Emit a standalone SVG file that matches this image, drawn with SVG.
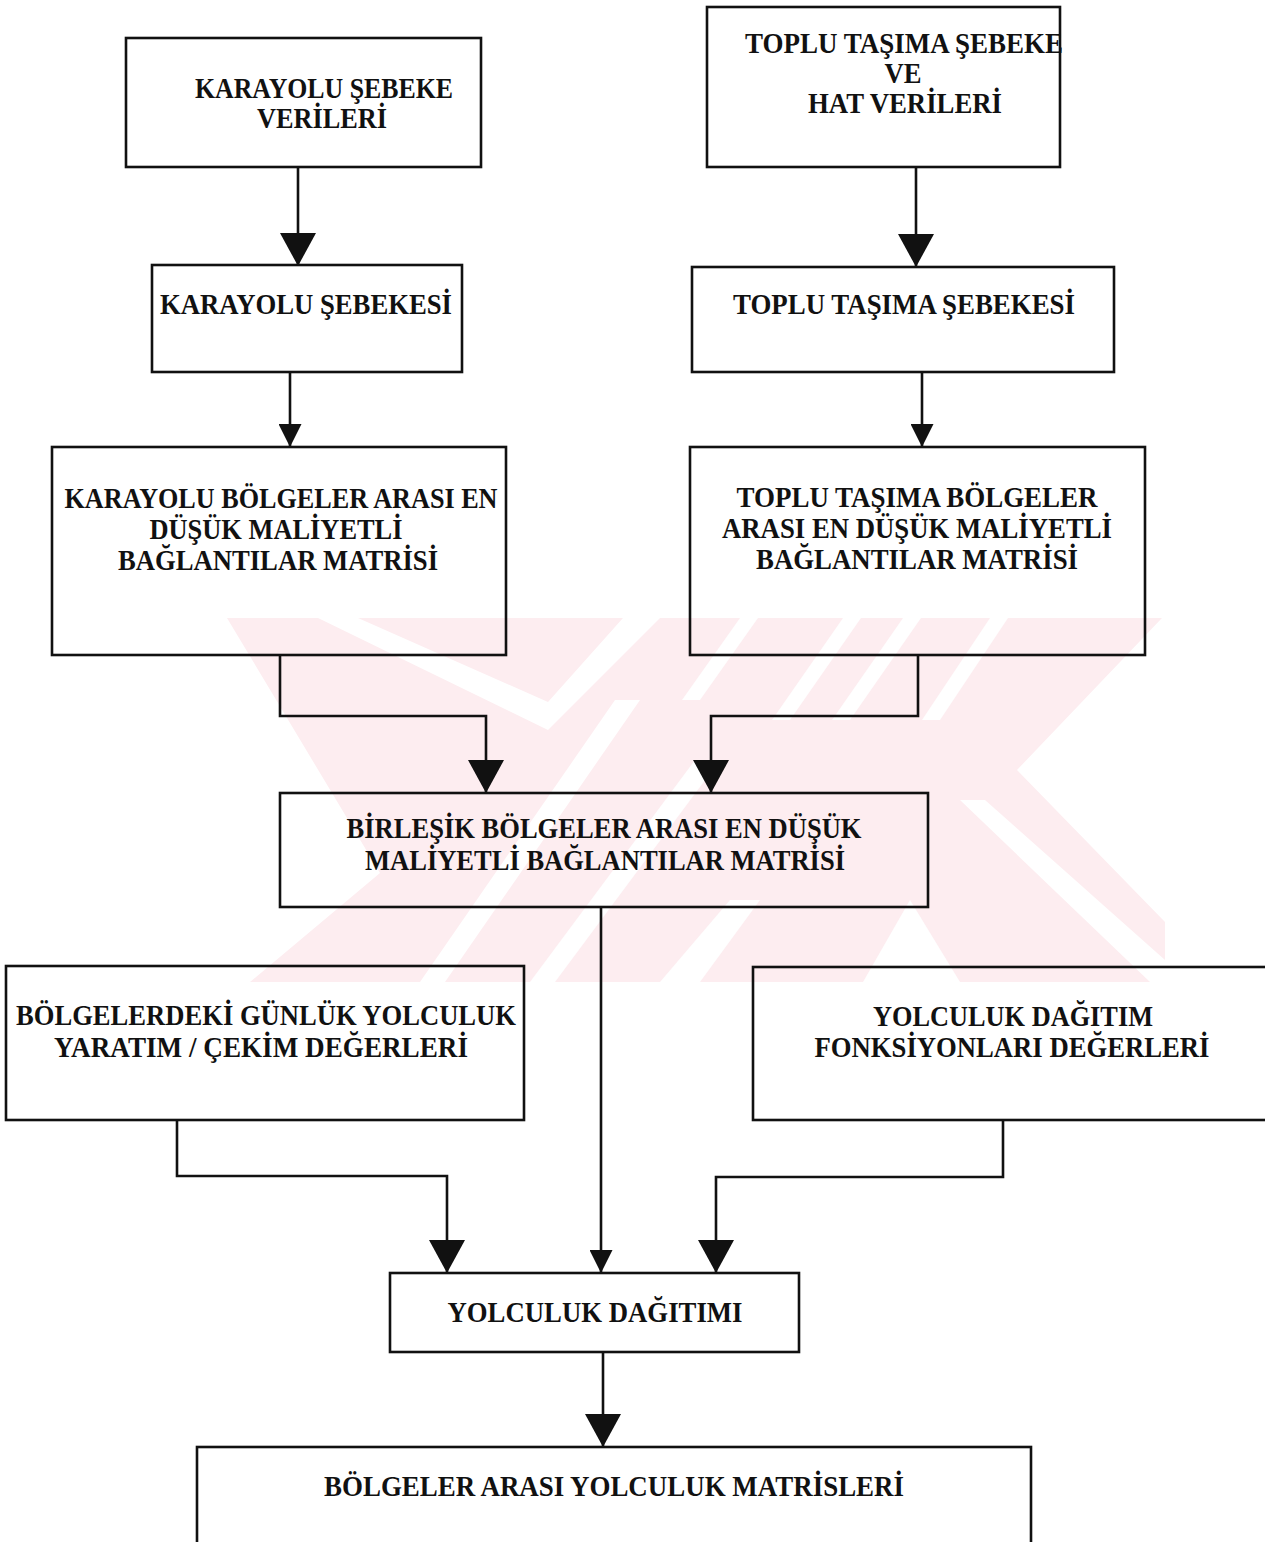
<svg xmlns="http://www.w3.org/2000/svg" width="1265" height="1542" viewBox="0 0 1265 1542">
  <defs>
    <style>
      .box { fill: none; stroke: #111; stroke-width: 2.6; }
      .wire { fill: none; stroke: #111; stroke-width: 2.6; }
      .lbl { font-family: "Liberation Serif", "Times New Roman", serif; font-weight: bold; font-size: 29px; fill: #111; text-anchor: middle; }
      .wm { fill: #fdedf0; }
      .gap { fill: #ffffff; }
    </style>
    <marker id="headBig" markerUnits="userSpaceOnUse" viewBox="0 0 33 36" markerWidth="33" markerHeight="36" refX="33" refY="18" orient="auto">
      <path d="M0,0 L33,18 L0,36 Z" fill="#111"/>
    </marker>
    <marker id="headSmall" markerUnits="userSpaceOnUse" viewBox="0 0 23 23" markerWidth="23" markerHeight="23" refX="23" refY="11.5" orient="auto">
      <path d="M0,0 L23,11.5 L0,23 Z" fill="#111"/>
    </marker>
  </defs>

  <rect width="1265" height="1542" fill="#ffffff"/>

  <!-- faint background emblem -->
  <g id="emblem">
    <polygon class="wm" points="227,618 1162,618 1017,770 1165,922 1165,982 250,982 380,873"/>
    <!-- white cut-outs -->
    <polygon class="gap" points="318,618 358,618 548,702 623,618 660,618 548,730"/>
    <polygon class="gap" points="420,982 445,982 640,700 615,700"/>
    <polygon class="gap" points="530,982 555,982 720,760 695,760"/>
    <polygon class="gap" points="660,982 700,982 760,900 730,900"/>
    <polygon class="gap" points="960,800 985,800 1165,960 1165,982 1150,982"/>
    <polygon class="gap" points="863,982 960,982 910,900"/>
    <polygon class="gap" points="740,618 758,618 700,700 682,700"/>
    <polygon class="gap" points="843,618 861,618 790,720 772,720"/>
    <polygon class="gap" points="903,618 921,618 850,720 832,720"/>
    <polygon class="gap" points="990,618 1008,618 940,720 922,720"/>
  </g>

  <!-- connectors -->
  <g id="connectors">
    <path class="wire" d="M298,167 V266" marker-end="url(#headBig)"/>
    <path class="wire" d="M916,167 V267" marker-end="url(#headBig)"/>
    <path class="wire" d="M290,372 V447" marker-end="url(#headSmall)"/>
    <path class="wire" d="M922,372 V447" marker-end="url(#headSmall)"/>
    <path class="wire" d="M280,655 V716 H486 V793" marker-end="url(#headBig)"/>
    <path class="wire" d="M918,655 V716 H711 V793" marker-end="url(#headBig)"/>
    <path class="wire" d="M177,1120 V1176 H447 V1273" marker-end="url(#headBig)"/>
    <path class="wire" d="M601,907 V1273" marker-end="url(#headSmall)"/>
    <path class="wire" d="M1003,1120 V1177 H716 V1273" marker-end="url(#headBig)"/>
    <path class="wire" d="M603,1352 V1447" marker-end="url(#headBig)"/>
  </g>

  <g id="karayolu-veri">
    <rect class="box" x="126" y="38" width="355" height="129"/>
    <text class="lbl" x="324" y="98" textLength="258" lengthAdjust="spacingAndGlyphs">KARAYOLU ŞEBEKE</text>
    <text class="lbl" x="322" y="128" textLength="130" lengthAdjust="spacingAndGlyphs">VERİLERİ</text>
  </g>

  <g id="karayolu-sebeke">
    <rect class="box" x="152" y="265" width="310" height="107"/>
    <text class="lbl" x="306" y="314" textLength="292" lengthAdjust="spacingAndGlyphs">KARAYOLU ŞEBEKESİ</text>
  </g>

  <g id="karayolu-matris">
    <rect class="box" x="52" y="447" width="454" height="208"/>
    <text class="lbl" x="281" y="508" textLength="433" lengthAdjust="spacingAndGlyphs">KARAYOLU BÖLGELER ARASI EN</text>
    <text class="lbl" x="276" y="539" textLength="253" lengthAdjust="spacingAndGlyphs">DÜŞÜK MALİYETLİ</text>
    <text class="lbl" x="278" y="570" textLength="320" lengthAdjust="spacingAndGlyphs">BAĞLANTILAR MATRİSİ</text>
  </g>

  <g id="toplu-veri">
    <rect class="box" x="707" y="7" width="353" height="160"/>
    <text class="lbl" x="904" y="53" textLength="318" lengthAdjust="spacingAndGlyphs">TOPLU TAŞIMA ŞEBEKE</text>
    <text class="lbl" x="903" y="83" textLength="37" lengthAdjust="spacingAndGlyphs">VE</text>
    <text class="lbl" x="905" y="113" textLength="194" lengthAdjust="spacingAndGlyphs">HAT VERİLERİ</text>
  </g>

  <g id="toplu-sebeke">
    <rect class="box" x="692" y="267" width="422" height="105"/>
    <text class="lbl" x="904" y="314" textLength="342" lengthAdjust="spacingAndGlyphs">TOPLU TAŞIMA ŞEBEKESİ</text>
  </g>

  <g id="toplu-matris">
    <rect class="box" x="690" y="447" width="455" height="208"/>
    <text class="lbl" x="917" y="507" textLength="361" lengthAdjust="spacingAndGlyphs">TOPLU TAŞIMA BÖLGELER</text>
    <text class="lbl" x="917" y="538" textLength="390" lengthAdjust="spacingAndGlyphs">ARASI EN DÜŞÜK MALİYETLİ</text>
    <text class="lbl" x="917" y="569" textLength="322" lengthAdjust="spacingAndGlyphs">BAĞLANTILAR MATRİSİ</text>
  </g>

  <g id="birlesik-matris">
    <rect class="box" x="280" y="793" width="648" height="114"/>
    <text class="lbl" x="604" y="838" textLength="515" lengthAdjust="spacingAndGlyphs">BİRLEŞİK BÖLGELER ARASI EN DÜŞÜK</text>
    <text class="lbl" x="605" y="870" textLength="480" lengthAdjust="spacingAndGlyphs">MALİYETLİ BAĞLANTILAR MATRİSİ</text>
  </g>

  <g id="yaratim-cekim">
    <rect class="box" x="6" y="966" width="518" height="154"/>
    <text class="lbl" x="266" y="1025" textLength="500" lengthAdjust="spacingAndGlyphs">BÖLGELERDEKİ GÜNLÜK YOLCULUK</text>
    <text class="lbl" x="261" y="1057" textLength="414" lengthAdjust="spacingAndGlyphs">YARATIM / ÇEKİM DEĞERLERİ</text>
  </g>

  <g id="dagitim-fonksiyon">
    <rect class="box" x="753" y="967" width="530" height="153"/>
    <text class="lbl" x="1013" y="1026" textLength="280" lengthAdjust="spacingAndGlyphs">YOLCULUK DAĞITIM</text>
    <text class="lbl" x="1012" y="1057" textLength="395" lengthAdjust="spacingAndGlyphs">FONKSİYONLARI DEĞERLERİ</text>
  </g>

  <g id="yolculuk-dagitimi">
    <rect class="box" x="390" y="1273" width="409" height="79"/>
    <text class="lbl" x="595" y="1322" textLength="295" lengthAdjust="spacingAndGlyphs">YOLCULUK DAĞITIMI</text>
  </g>

  <g id="yolculuk-matrisleri">
    <rect class="box" x="197" y="1447" width="834" height="110"/>
    <text class="lbl" x="614" y="1496" textLength="580" lengthAdjust="spacingAndGlyphs">BÖLGELER ARASI YOLCULUK MATRİSLERİ</text>
  </g>
</svg>
